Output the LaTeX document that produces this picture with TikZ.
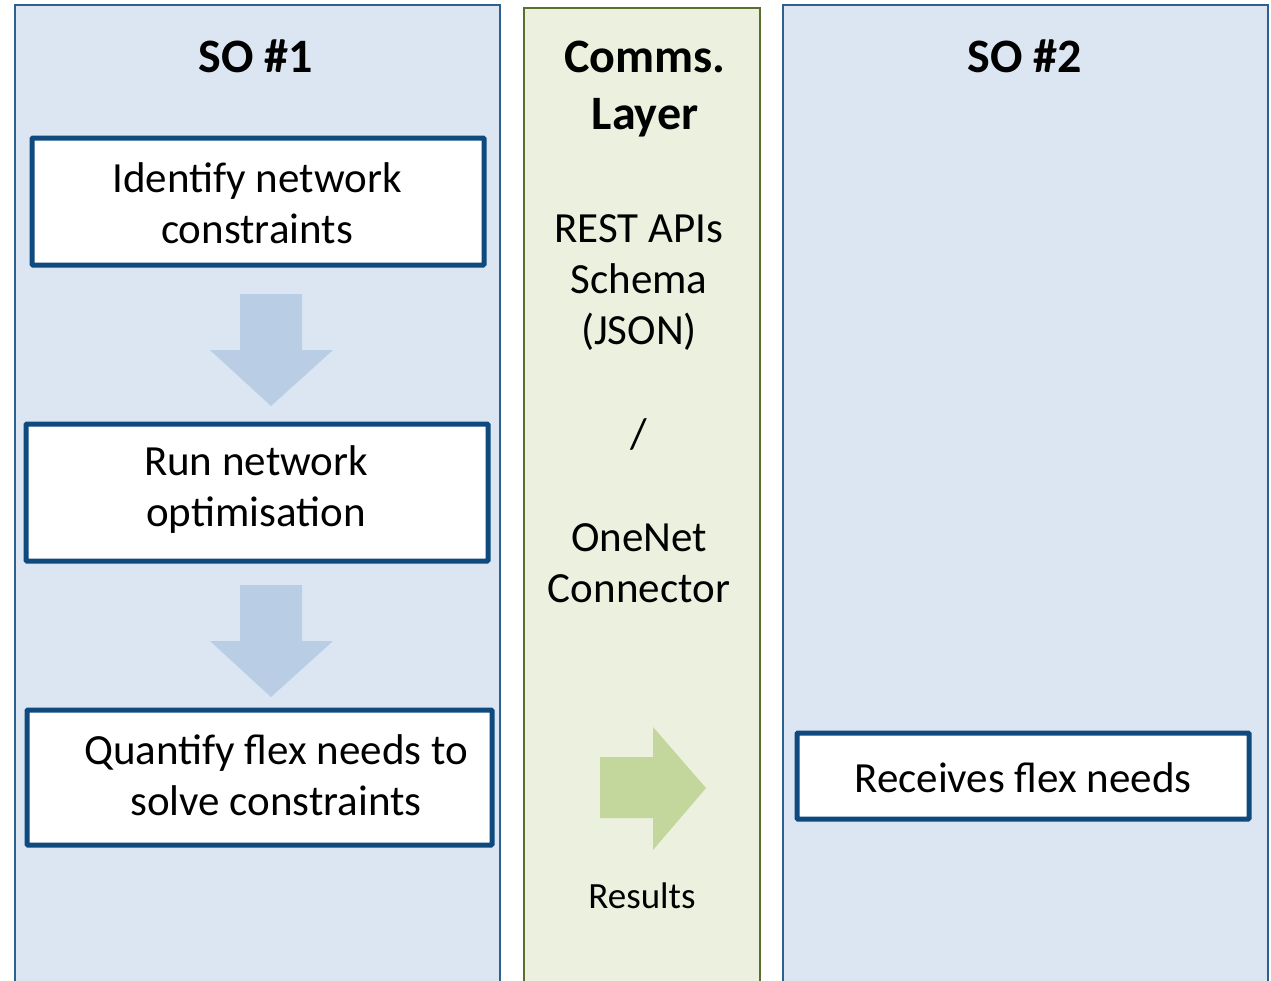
\documentclass[tikz,border=0pt]{standalone}
\usepackage{fontspec}
\setmainfont{Carlito}
\definecolor{lanefill}{HTML}{DCE6F2}
\definecolor{laneline}{HTML}{2F5F8F}
\definecolor{commfill}{HTML}{EBF1DE}
\definecolor{commline}{HTML}{5A6F2E}
\definecolor{boxline}{HTML}{0E4A7E}
\definecolor{downarrow}{HTML}{B9CDE5}
\definecolor{greenarrow}{HTML}{C3D69B}
\begin{document}
\begin{tikzpicture}[x=1pt,y=-1pt,
  lane/.style={draw=laneline,fill=lanefill,line width=1.6pt},
  commlane/.style={draw=commline,fill=commfill,line width=1.6pt},
  stepbox/.style={draw=boxline,fill=white,line width=5pt,rounded corners=1pt,inner sep=0pt},
  boxtext/.style={font=\fontsize{43}{51}\selectfont,align=center,inner sep=0pt},
  title/.style={font=\fontsize{48}{57}\selectfont\bfseries,align=center,inner sep=0pt},
  midtext/.style={font=\fontsize{43}{51}\selectfont,align=center,inner sep=0pt}]
\useasboundingbox (0,0) rectangle (1271,980);
\begin{scope}
\clip (0,0) rectangle (1271,980);
\draw[lane] (15,5) rectangle (500,1000);
\draw[commlane] (524,8) rectangle (760,1000);
\draw[lane] (783,5) rectangle (1268,1000);
\end{scope}
% titles
\node[title] (t1) at (256,56) {SO \#1};
\node[title] (t2) at (1025,56) {SO \#2};
\node[title] (tc) at (645,89) {Comms.\\Layer};
% middle texts
\node[midtext] (rest) at (639,283) {REST APIs\\Schema\\(JSON)};
\node[midtext] (slash) at (639,434) {/};
\node[midtext] (onenet) at (639,563) {OneNet\\Connector};
\node[font=\fontsize{37}{44}\selectfont,inner sep=0pt] (res) at (642,896) {Results};
% boxes
\node[stepbox,minimum width=452,minimum height=127] (b1) at (258,201.5) {};
\node[boxtext] (b1t) at (257,203) {Identify network\\constraints};
\node[stepbox,minimum width=462,minimum height=137] (b2) at (257,492.5) {};
\node[boxtext] (b2t) at (256,490) {Run network\\optimisation};
\node[stepbox,minimum width=465,minimum height=135] (b3) at (259.5,777.5) {};
\node[boxtext] (b3t) at (276,775) {Quantify flex needs to\\solve constraints};
\node[stepbox,minimum width=452,minimum height=86] (b4) at (1023,776) {};
\node[boxtext] (b4t) at (1023,778) {Receives flex needs};
% down arrows
\fill[downarrow] (240,294) -- (302,294) -- (302,350) -- (333,350) -- (271,406) -- (210,350) -- (240,350) -- cycle;
\fill[downarrow] (240,585) -- (302,585) -- (302,641) -- (333,641) -- (271,697) -- (210,641) -- (240,641) -- cycle;
% right arrow
\fill[greenarrow] (600,757) -- (653,757) -- (653,727) -- (706,788) -- (653,850) -- (653,818) -- (600,818) -- cycle;
\end{tikzpicture}
\end{document}
